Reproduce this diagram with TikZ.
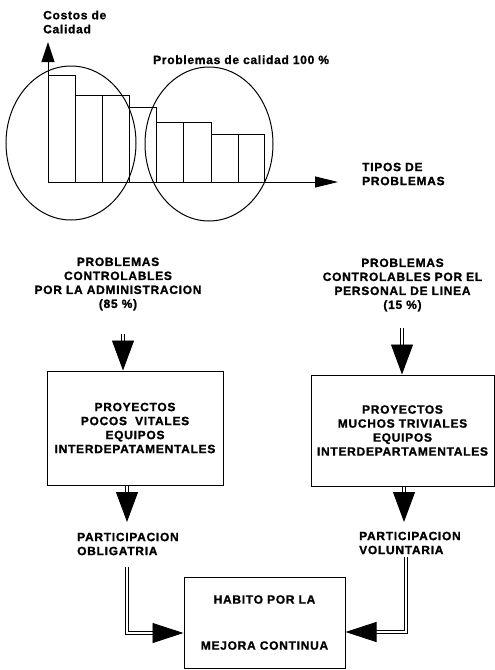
\documentclass[tikz,border=0pt]{standalone}
\usepackage{fontspec}
\setmainfont{Liberation Sans}[LetterSpace=6, BoldFont={Liberation Sans Bold},
  BoldFeatures={FakeBold=1.2}]
\usetikzlibrary{arrows.meta}
\begin{document}
\begin{tikzpicture}[x=1pt,y=-1pt,
  lbl/.style={font=\bfseries\fontsize{12}{14}\selectfont, inner sep=0pt},
  boxnode/.style={draw, line width=1pt, lbl, align=center},
  bar/.style={draw, line width=1pt},
  ring/.style={draw, line width=1pt},
  axis/.style={line width=1pt},
  dbl/.style={double, double distance=2pt, line width=0.9pt,
    -{Triangle[length=30pt,width=22pt]}},
  dblside/.style={double, double distance=2pt, line width=0.9pt,
    -{Triangle[length=31pt,width=20pt]}}]
\useasboundingbox (0,0) rectangle (495,670);

% ---- Pareto chart ----
\coordinate (O) at (48,182);
\coordinate (ytop) at (48,42);
\coordinate (xend) at (338,182);
\foreach \xa/\xb/\h in {48/75/75, 75/102/95, 102/129/95, 129/156/107,
                         156/183/122, 183/211/122, 211/238/134, 238/264/134}
  \draw[bar] (\xa,182) rectangle (\xb,\h);
\draw[axis,-{Triangle[length=20pt,width=13pt]}] (O) -- (ytop);
\draw[axis,-{Triangle[length=23pt,width=11pt]}] (O) -- (xend);
\draw[ring] (71,143) ellipse [x radius=65pt, y radius=77pt];
\draw[ring] (209,144) ellipse [x radius=64pt, y radius=77pt];

\node[lbl, align=left, anchor=west] (costos) at (43,22) {Costos de\\Calidad};
\node[lbl, anchor=base west] (pct) at (153,64) {Problemas de calidad 100 \%};
\node[lbl, align=left, anchor=west] (tipos) at (362,174) {TIPOS DE\\PROBLEMAS};

% ---- Left branch ----
\node[lbl, align=center] (admin) at (118,284)
  {PROBLEMAS\\CONTROLABLES\\POR LA ADMINISTRACION\\(85 \%)};
\node[boxnode, minimum width=176pt, minimum height=114pt] (boxL) at (135,428)
  {PROYECTOS\\POCOS\ \ VITALES\\EQUIPOS\\INTERDEPATAMENTALES};
\node[lbl, align=left, anchor=west] (partL) at (77,544)
  {PARTICIPACION\\OBLIGATRIA};

% ---- Right branch ----
\node[lbl, align=center] (linea) at (402.5,285)
  {PROBLEMAS\\CONTROLABLES POR EL\\PERSONAL DE LINEA\\(15 \%)};
\node[boxnode, minimum width=183pt, minimum height=111pt] (boxR) at (402.5,430.5)
  {PROYECTOS\\MUCHOS TRIVIALES\\EQUIPOS\\INTERDEPARTAMENTALES};
\node[lbl, align=left, anchor=west] (partR) at (359,543)
  {PARTICIPACION\\VOLUNTARIA};

% ---- Result ----
\node[boxnode, minimum width=161pt, minimum height=91pt] (hab) at (264.5,622.5)
  {HABITO POR LA\\[32pt]MEJORA CONTINUA};

% ---- Connectors ----
\coordinate (a1) at (123,334);
\coordinate (a2) at (402,328);
\coordinate (b1) at (127,522);
\coordinate (b2) at (404,522);
\coordinate (c1) at (127,567);
\coordinate (c2) at (406,557);

\draw[dbl] (a1) -- (a1 |- boxL.north);
\draw[dbl] (a2) -- (a2 |- boxR.north);
\draw[dbl] (boxL.south -| b1) -- (b1);
\draw[dbl] (boxR.south -| b2) -- (b2);
\draw[dblside] (c1) |- ([yshift=-10.5pt]hab.west);
\draw[dblside] (c2) |- ([yshift=-9.5pt]hab.east);
\end{tikzpicture}
\end{document}
